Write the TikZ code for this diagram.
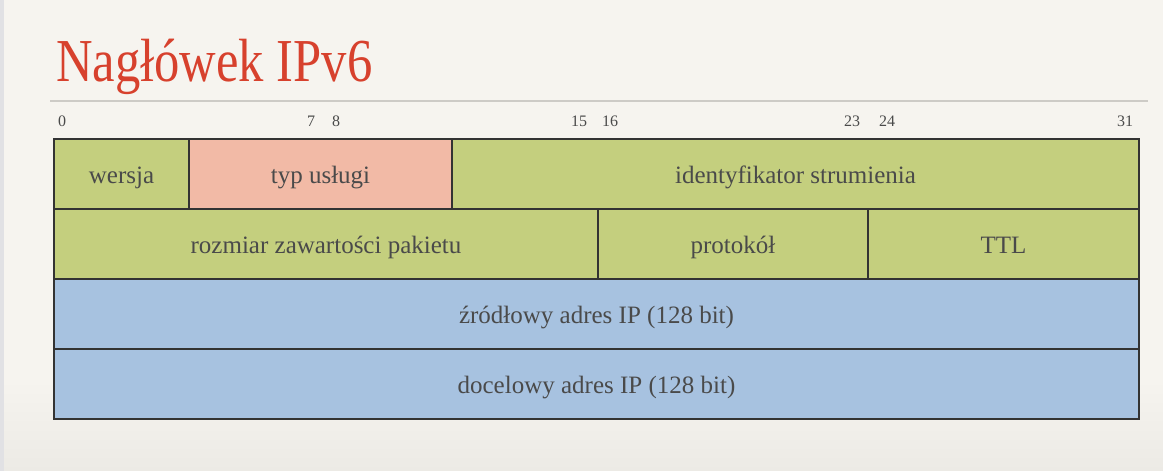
\documentclass[tikz,border=0pt]{standalone}
\usepackage{fontspec}
\usepackage{graphicx}
\setmainfont{Liberation Serif}
\definecolor{bgc}{HTML}{F6F4EF}
\definecolor{bgb}{HTML}{ECEAE5}
\definecolor{strip}{HTML}{E1E1E4}
\definecolor{titlec}{HTML}{D7412D}
\definecolor{rulec}{HTML}{CDCBC6}
\definecolor{txt}{HTML}{4A4A4A}
\definecolor{fgreen}{HTML}{C4CF7E}
\definecolor{fsalmon}{HTML}{F2BAA6}
\definecolor{fblue}{HTML}{A7C2E0}
\definecolor{edge}{HTML}{333333}
\tikzset{
  field/.style={draw=edge, line width=1.5pt, inner sep=0pt, minimum height=70pt,
    text height=18pt, text depth=0pt,
    text=txt, font=\fontsize{25}{30}\selectfont},
  bitnum/.style={anchor=base, text=txt, inner sep=0pt, font=\fontsize{16}{19}\selectfont}
}
\begin{document}
\begin{tikzpicture}[x=1pt,y=-1pt]
\useasboundingbox (0,0) rectangle (1163,471);
\fill[bgc] (0,0) rectangle (1163,471);
\shade[top color=bgc, bottom color=bgb] (0,380) rectangle (1163,471);
\fill[strip] (0,0) rectangle (4,471);
\node[anchor=base west, inner sep=0pt, text=titlec, font=\fontsize{61}{70}\selectfont] (title) at (56,81) {\scalebox{0.83}[1]{Nagłówek IPv6}};
\coordinate (rl) at (50,101);
\coordinate (rr) at (1148,101);
\draw[rulec, line width=2pt] (rl) -- (rr);
\node[bitnum] (b0) at (62,126) {0};
\node[bitnum] (b7) at (311,126) {7};
\node[bitnum] (b8) at (336,126) {8};
\node[bitnum] (b15) at (579,126) {15};
\node[bitnum] (b16) at (610,126) {16};
\node[bitnum] (b23) at (852,126) {23};
\node[bitnum] (b24) at (887,126) {24};
\node[bitnum] (b31) at (1125,126) {31};
\node[field, fill=fgreen, minimum width=135pt] (wersja) at (121.5,174) {wersja};
\node[field, fill=fsalmon, minimum width=263pt] (typ) at (320.5,174) {typ usługi};
\node[field, fill=fgreen, minimum width=687pt] (ident) at (795.5,174) {identyfikator strumienia};
\node[field, fill=fgreen, minimum width=544pt] (rozm) at (326,244) {rozmiar zawartości pakietu};
\node[field, fill=fgreen, minimum width=270pt] (prot) at (733,244) {protokół};
\node[field, fill=fgreen, minimum width=271pt] (ttl) at (1003.5,244) {TTL};
\node[field, fill=fblue, minimum width=1085pt] (src) at (596.5,314) {źródłowy adres IP (128 bit)};
\node[field, fill=fblue, minimum width=1085pt] (dst) at (596.5,384) {docelowy adres IP (128 bit)};
\end{tikzpicture}
\end{document}
